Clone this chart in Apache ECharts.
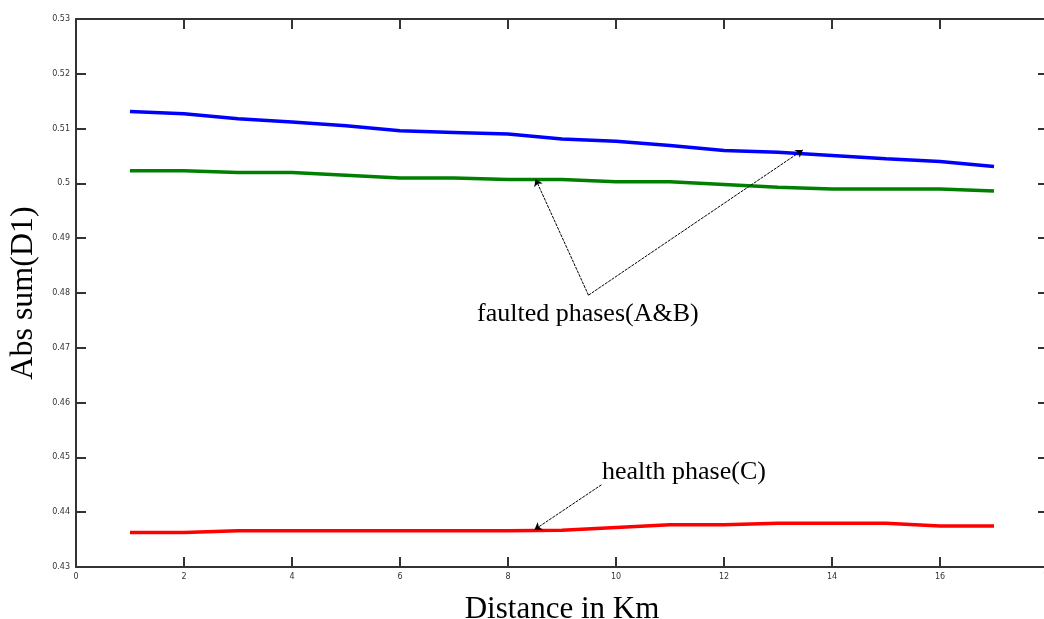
<!DOCTYPE html>
<html>
<head>
<meta charset="utf-8">
<script src="https://cdn.jsdelivr.net/npm/echarts@6/dist/echarts.min.js"></script>
<style>
  html, body { margin: 0; padding: 0; background: #fff; }
  #chart { width: 1044px; height: 619px; }
</style>
</head>
<body>
<div id="chart"></div>
<script>
var distanceKm = [1, 2, 3, 4, 5, 6, 7, 8, 9, 10, 11, 12, 13, 14, 15, 16, 17];
var faultedBlue = [0.5131, 0.5127, 0.5118, 0.5112, 0.5105, 0.5096, 0.5093, 0.5090, 0.5081,
    0.5077, 0.5069, 0.5060, 0.5057, 0.5051, 0.5045, 0.5040, 0.5031];
var faultedGreen = [0.5023, 0.5023, 0.5020, 0.5020, 0.5015, 0.5010, 0.5010, 0.5007, 0.5007,
    0.5003, 0.5003, 0.4998, 0.4993, 0.4990, 0.4990, 0.4990, 0.4986];
var healthRed = [0.4363, 0.4363, 0.4366, 0.4366, 0.4366, 0.4366, 0.4366, 0.4366, 0.4367,
    0.4372, 0.4377, 0.4377, 0.4380, 0.4380, 0.4380, 0.4375, 0.4375];

// annotation arrows, in data coordinates [km, value]
var faultedLabelPt = [9.49, 0.4796];
var faultedGreenPt = [8.51, 0.5008];
var faultedBluePt = [13.46, 0.5061];
var healthLabelPt = [9.73, 0.4450];
var healthRedPt = [8.49, 0.4368];

function pairs(xs, ys) {
    return xs.map(function (x, i) { return [x, ys[i]]; });
}

var chartDom = document.getElementById('chart');
var myChart = echarts.init(chartDom);
var option;

var axisLine = { show: true, onZero: false, lineStyle: { color: '#333', width: 2 } };
var axisTick = { show: true, inside: true, length: 10, lineStyle: { color: '#333', width: 2 } };
var serif = 'Liberation Serif';

option = {
    animation: false,
    grid: {
        left: 76,
        width: 972,
        top: 19,
        bottom: 52,
        outerBoundsMode: 'none',
        containLabel: false
    },
    xAxis: [{
        type: 'value',
        min: 0,
        max: 18,
        interval: 2,
        name: 'Distance in Km',
        nameLocation: 'middle',
        nameGap: 27,
        nameTextStyle: { fontFamily: serif, fontSize: 31, color: '#000' },
        axisLine: axisLine,
        axisTick: axisTick,
        axisLabel: { fontSize: 8, color: '#333', margin: 6, fontFamily: 'DejaVu Sans' },
        splitLine: { show: false }
    }, {
        type: 'value',
        position: 'top',
        min: 0,
        max: 18,
        interval: 2,
        axisLine: axisLine,
        axisTick: axisTick,
        axisLabel: { show: false },
        splitLine: { show: false }
    }],
    yAxis: [{
        type: 'value',
        min: 0.43,
        max: 0.53,
        interval: 0.01,
        name: 'Abs sum(D1)',
        nameLocation: 'middle',
        nameGap: 36,
        nameTextStyle: { fontFamily: serif, fontSize: 32, color: '#000' },
        axisLine: axisLine,
        axisTick: axisTick,
        axisLabel: { fontSize: 8, color: '#333', margin: 6, fontFamily: 'DejaVu Sans' },
        splitLine: { show: false }
    }, {
        type: 'value',
        position: 'right',
        min: 0.43,
        max: 0.53,
        interval: 0.01,
        axisLine: axisLine,
        axisTick: axisTick,
        axisLabel: { show: false },
        splitLine: { show: false }
    }],
    series: [
        {
            name: 'faulted blue',
            type: 'line',
            data: pairs(distanceKm, faultedBlue),
            showSymbol: false,
            lineStyle: { color: '#0000ff', width: 3.5 }
        },
        {
            name: 'faulted green',
            type: 'line',
            data: pairs(distanceKm, faultedGreen),
            showSymbol: false,
            lineStyle: { color: '#008000', width: 3.5 },
            markLine: {
                silent: true,
                symbol: ['none', 'arrow'],
                symbolSize: 7,
                label: { show: false },
                lineStyle: { color: '#000', width: 1, type: [3, 1] },
                data: [
                    [{ coord: faultedLabelPt }, { coord: faultedGreenPt }],
                    [{ coord: faultedLabelPt }, { coord: faultedBluePt }]
                ]
            }
        },
        {
            name: 'health red',
            type: 'line',
            data: pairs(distanceKm, healthRed),
            showSymbol: false,
            lineStyle: { color: '#ff0000', width: 3.5 },
            markLine: {
                silent: true,
                symbol: ['none', 'arrow'],
                symbolSize: 7,
                label: { show: false },
                lineStyle: { color: '#000', width: 1, type: [3, 1] },
                data: [
                    [{ coord: healthLabelPt }, { coord: healthRedPt }]
                ]
            }
        }
    ],
    graphic: [
        {
            type: 'text',
            left: 477,
            top: 301,
            style: { text: 'faulted phases(A&B)', font: '26px "Liberation Serif"', fill: '#000' }
        },
        {
            type: 'text',
            left: 602,
            top: 459,
            style: { text: 'health phase(C)', font: '26px "Liberation Serif"', fill: '#000' }
        }
    ]
};

option && myChart.setOption(option);
</script>
</body>
</html>
